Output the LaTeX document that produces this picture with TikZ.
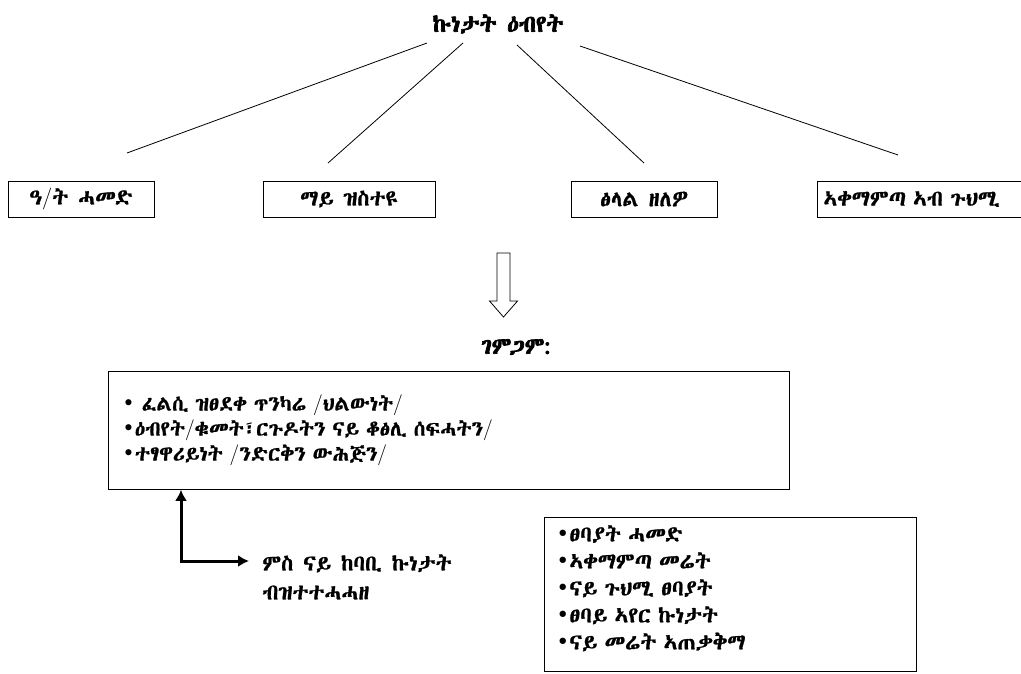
\documentclass[tikz,border=0pt]{standalone}
\usepackage{fontspec}
\usetikzlibrary{arrows.meta}
\newcommand\ethname{DejaVu Sans}
\IfFontExistsTF{Abyssinica SIL}{\renewcommand\ethname{Abyssinica SIL}}{%
\IfFontExistsTF{Noto Sans Ethiopic}{\renewcommand\ethname{Noto Sans Ethiopic}}{%
\IfFontExistsTF{Noto Serif Ethiopic}{\renewcommand\ethname{Noto Serif Ethiopic}}{%
\IfFontExistsTF{FreeSerif}{\renewcommand\ethname{FreeSerif}}{}}}}
\newfontfamily\ethfont{\ethname}[FakeBold=1]
\newfontfamily\ethbold{\ethname}[FakeBold=3]
\newfontfamily\symfont{DejaVu Sans}
\newcommand\bul{{\symfont •}}
\newcommand\slh{{\rmfamily/}}
\begin{document}
\begin{tikzpicture}[x=1pt,y=-1pt,line width=0.8pt,
box/.style={draw,inner sep=0pt,minimum height=36pt,font=\ethfont\fontsize{22}{24}\selectfont},
txt/.style={font=\ethfont\fontsize{22}{27}\selectfont}]
\useasboundingbox (0,0) rectangle (1021,673);

\node[font=\ethbold\fontsize{23.5}{24}\selectfont] (title) at (498,24) {ኩነታት ዕብየት};

\node[box,minimum width=146pt] (soil) at (81,199) {ዓ\slh ት ሓመድ};
\node[box,minimum width=172pt] (water) at (349,199) {ማይ ዝስተዩ};
\node[box,minimum width=146pt] (shade) at (644,199) {ፅላል ዘለዎ};
\node[box,anchor=west,inner xsep=6pt,text width=228pt,align=left] (place) at (817,199) {ኣቀማምጣ ኣብ ጉህሚ};

\coordinate (s1) at (427,43);
\coordinate (e1) at (127,153);
\coordinate (s2) at (463,43);
\coordinate (e2) at (328,163);
\coordinate (s3) at (517,45);
\coordinate (e3) at (644,163);
\coordinate (s4) at (580,46);
\coordinate (e4) at (898,155);
\path (s1) edge (e1);
\path (s2) edge (e2);
\path (s3) edge (e3);
\path (s4) edge (e4);

% hollow arrow
\draw (497,253) -- (510,253) -- (510,301) -- (517.5,301) -- (503.5,317)
  -- (489.5,301) -- (497,301) -- cycle;

\node[font=\ethbold\fontsize{23}{24}\selectfont] (head) at (516,347) {ገምጋም:};

\node[font=\ethfont\fontsize{21}{25}\selectfont,draw,anchor=north west,minimum width=681pt,minimum height=118pt,
  inner xsep=14pt,text width=653pt,align=left] (eval) at (108,371)
  {\bul\ ፈልሲ ዝፀደቀ ጥንካሬ \slh ህልውነት\slh\\
   \bul ዕብየት\slh ቁመት፣ርጉዶትን ናይ ቆፅሊ ሰፍሓትን\slh\\
   \bul ተፃዋሪይነት \slh ንድርቅን ውሕጅን\slh};

\node[txt,draw,anchor=north west,minimum width=372pt,minimum height=154pt,
  inner xsep=12pt,text width=348pt,align=left] (factors) at (544,517)
  {\bul ፀባያት ሓመድ\\
   \bul ኣቀማምጣ መሬት\\
   \bul ናይ ጉህሚ ፀባያት\\
   \bul ፀባይ ኣየር ኩነታት\\
   \bul ናይ መሬት ኣጠቃቅማ\rule[-14pt]{0pt}{14pt}};

\node[anchor=north west,align=left,inner sep=4pt,font=\ethfont\fontsize{22}{29}\selectfont] (note) at (258,550)
  {ምስ ናይ ከባቢ ኩነታት\\ብዝተተሓሓዘ};

\coordinate (elbow) at (181,561);
\draw[line width=3pt,{Latex[length=11pt,width=12pt]}-{Latex[length=11pt,width=12pt]},shorten >=9pt]
  (eval.south -| elbow) -- (elbow) -- (elbow -| note.west);

\end{tikzpicture}
\end{document}
